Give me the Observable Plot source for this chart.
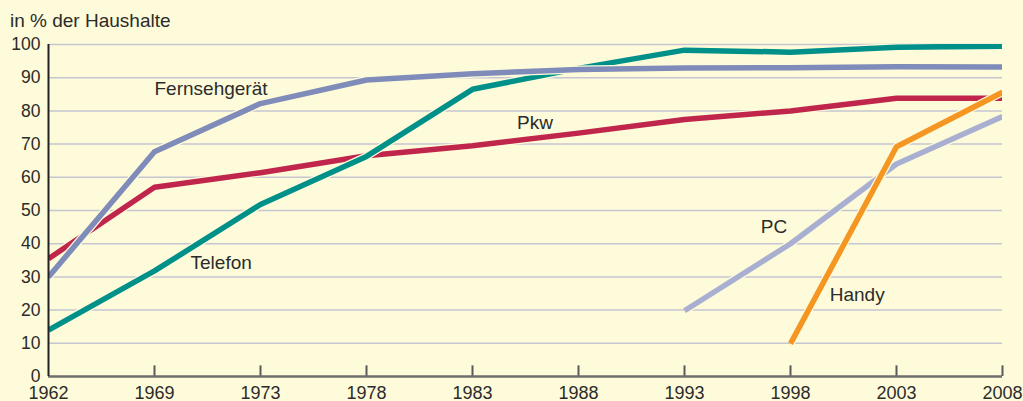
<!DOCTYPE html>
<html>
<head>
<meta charset="utf-8">
<script src="https://cdn.jsdelivr.net/npm/d3@7"></script>
<script src="https://cdn.jsdelivr.net/npm/@observablehq/plot@0.6"></script>
<style>
  html, body { margin: 0; padding: 0; background: #fefbda; }
  #wrap { position: relative; width: 1023px; height: 401px; overflow: hidden; font-family: "Liberation Sans", Arial, sans-serif; }
  #title { position: absolute; left: 10px; top: 10px; font-size: 19px; line-height: 22px; color: #2b2b2b; }
</style>
</head>
<body>
<div id="wrap"><div id="title">in % der Haushalte</div></div>
<script>
const years = ["1962","1969","1973","1978","1983","1988","1993","1998","2003","2008"];
const yTicks = [0,10,20,30,40,50,60,70,80,90,100];

const fernseh = [30, 67.7, 82.2, 89.3, 91.2, 92.5, 92.9, 93, 93.3, 93.2];
const pkw     = [35.5, 57, 61.4, 66.5, 69.5, 73.3, 77.4, 80, 83.8, 83.8];
const telefon = [14, 31.8, 51.8, 66.3, 86.5, 92.8, 98.3, 97.7, 99.2, 99.5];
const pcYears = ["1993","1998","2003","2008"];
const pc      = [19.8, 40, 64, 78.3];
const handyYears = ["1998","2003","2008"];
const handy   = [9.9, 69.2, 85.6];

const seriesNames  = ["Pkw", "Telefon", "Fernsehgerät", "PC", "Handy"];
const seriesColors = ["#c0264b", "#00908a", "#7f8cb9", "#a9afd1", "#f59522"];

const labelNames = ["Fernsehgerät", "Pkw", "Telefon", "PC", "Handy"];
const labelX     = [1.0, 4.42, 1.34, 6.72, 7.37];   // position along the year axis (index)
const labelY     = [86.7, 76.5, 34.3, 45.1, 24.6];

const idx = y => years.indexOf(y);
const rows = [];
years.forEach((y, i) => {
  rows.push({s: "Fernsehgerät", x: i, v: fernseh[i]});
  rows.push({s: "Pkw", x: i, v: pkw[i]});
  rows.push({s: "Telefon", x: i, v: telefon[i]});
});
pcYears.forEach((y, i) => rows.push({s: "PC", x: idx(y), v: pc[i]}));
handyYears.forEach((y, i) => rows.push({s: "Handy", x: idx(y), v: handy[i]}));

const labels = labelNames.map((t, i) => ({t, x: labelX[i], y: labelY[i]}));
const xIdx = years.map((_, i) => i);

const marks = [
  Plot.ruleY(yTicks.filter(d => d > 0), {stroke: "#c6c6d2", strokeWidth: 1.5}),
];
for (let k = 0; k < seriesNames.length; k++) {
  const data = rows.filter(r => r.s === seriesNames[k]);
  marks.push(Plot.line(data, {x: "x", y: "v", stroke: "#fefbda", strokeWidth: 8, strokeLinejoin: "round", strokeLinecap: "butt", clip: true}));
  marks.push(Plot.line(data, {x: "x", y: "v", stroke: seriesColors[k], strokeWidth: 5.5, strokeLinejoin: "round", strokeLinecap: "butt", clip: true}));
}
marks.push(
  Plot.ruleX(xIdx.slice(1), {x: d => d, y1: 0, y2: 3.2, stroke: "#5a5a5a", strokeWidth: 2}),
  Plot.ruleY([0], {stroke: "#6e6e6e", strokeWidth: 2.5}),
  Plot.ruleX([0], {y1: 0, y2: 100, stroke: "#222", strokeWidth: 2}),
  Plot.axisY(yTicks, {tickSize: 0, tickPadding: 8, fontSize: 17.5, fill: "#2b2b2b", label: null}),
  Plot.axisX(xIdx, {tickSize: 0, tickPadding: 10, fontSize: 18, fill: "#2b2b2b", label: null, tickFormat: i => years[i]}),
  Plot.text(labels, {x: "x", y: "y", text: "t", textAnchor: "start", fontSize: 19, fill: "#2b2b2b"})
);

const chart = Plot.plot({
  width: 1023,
  height: 401,
  marginLeft: 48,
  marginRight: 21,
  marginTop: 44,
  marginBottom: 25,
  style: {background: "transparent", fontFamily: "'Liberation Sans', Arial, sans-serif", overflow: "visible"},
  x: {type: "linear", domain: [0, years.length - 1]},
  y: {domain: [0, 100]},
  marks
});
document.getElementById("wrap").appendChild(chart);
</script>
</body>
</html>
